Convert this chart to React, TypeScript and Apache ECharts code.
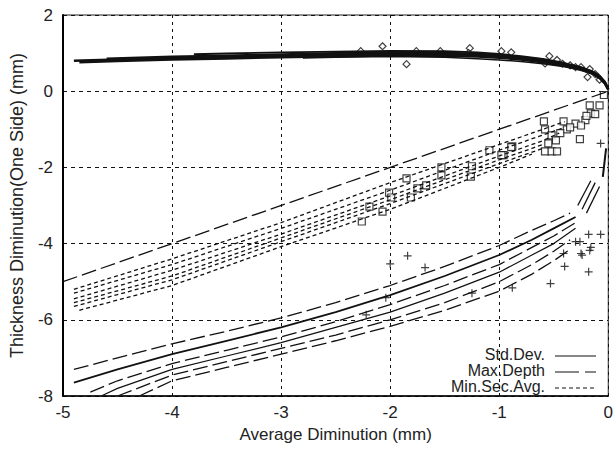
import React, { useEffect, useRef } from "react";
import * as echarts from "echarts";

// ---- tick values ----
const xTicks = [-5, -4, -3, -2, -1, 0];
const yTicks = [2, 0, -2, -4, -6, -8];

// ---- Std.Dev. (solid) curves ----
const stdDev1 = [[-4.9, 0.8], [-4.5, 0.83], [-4, 0.87], [-3.5, 0.9], [-3, 0.93], [-2.5, 0.96], [-2, 0.98], [-1.5, 0.97], [-1.2, 0.95], [-1, 0.92], [-0.8, 0.87], [-0.6, 0.8], [-0.4, 0.7], [-0.25, 0.6], [-0.15, 0.5], [-0.08, 0.38], [-0.03, 0.22], [0, 0.05]];
const stdDev2 = [[-4.85, 0.76], [-4.5, 0.79], [-4, 0.83], [-3.5, 0.86], [-3, 0.89], [-2.5, 0.92], [-2, 0.94], [-1.5, 0.93], [-1.2, 0.91], [-1, 0.88], [-0.8, 0.83], [-0.6, 0.76], [-0.4, 0.67], [-0.25, 0.57], [-0.15, 0.47], [-0.08, 0.35], [-0.03, 0.2], [0, 0.04]];
const stdDev3 = [[-4.6, 0.86], [-4, 0.91], [-3.5, 0.94], [-3, 0.97], [-2.5, 1.0], [-2, 1.02], [-1.5, 1.01], [-1.2, 0.99], [-1, 0.95], [-0.8, 0.9], [-0.6, 0.83], [-0.4, 0.72], [-0.25, 0.62], [-0.15, 0.52], [-0.08, 0.4], [-0.03, 0.24], [0, 0.06]];
const stdDev4 = [[-3.8, 0.97], [-3.5, 0.99], [-3, 1.02], [-2.5, 1.04], [-2, 1.06], [-1.5, 1.05], [-1.2, 1.02], [-1, 0.98], [-0.8, 0.92], [-0.6, 0.85], [-0.4, 0.74], [-0.25, 0.63], [-0.15, 0.53], [-0.08, 0.41], [-0.03, 0.25], [0, 0.07]];
const stdDev5 = [[-2.8, 0.87], [-2.5, 0.89], [-2, 0.91], [-1.5, 0.89], [-1.2, 0.85], [-1, 0.82], [-0.8, 0.78], [-0.6, 0.72], [-0.4, 0.64], [-0.25, 0.55], [-0.15, 0.46], [-0.08, 0.34], [-0.03, 0.19], [0, 0.03]];

// ---- reference line (Max.Depth style) ----
const refLine = [[-5, -5], [0, 0]];

// ---- Min.Sec.Avg. (short dash) curves ----
const minSec1 = [[-4.9, -5.2], [-4, -4.4], [-3, -3.45], [-2, -2.4], [-1, -1.4], [-0.6, -1.0], [-0.4, -0.8]];
const minSec2 = [[-4.9, -5.3], [-4, -4.55], [-3, -3.6], [-2, -2.6], [-1, -1.55], [-0.6, -1.15], [-0.4, -0.95]];
const minSec3 = [[-4.9, -5.45], [-4, -4.7], [-3, -3.75], [-2, -2.75], [-1, -1.7], [-0.6, -1.3], [-0.45, -1.1]];
const minSec4 = [[-4.9, -5.55], [-4, -4.85], [-3, -3.85], [-2, -2.85], [-1, -1.8], [-0.6, -1.4]];
const minSec5 = [[-4.9, -5.65], [-4, -4.95], [-3, -3.95], [-2, -2.95], [-1, -1.9], [-0.6, -1.5]];
const minSec6 = [[-4.85, -5.75], [-4, -5.1], [-3, -4.08], [-2, -3.1], [-1, -2.0], [-0.7, -1.65]];

// ---- Max.Depth (long dash) curves ----
const maxDepth1 = [[-4.9, -7.3], [-4.5, -7.0], [-4, -6.63], [-3.5, -6.3], [-3, -5.95], [-2.5, -5.55], [-2, -5.1], [-1.5, -4.6], [-1, -4.05], [-0.7, -3.65], [-0.5, -3.4], [-0.35, -3.2]];
const maxDepth2 = [[-4.9, -7.65], [-4.5, -7.3], [-4, -6.9], [-3.5, -6.55], [-3, -6.2], [-2.5, -5.8], [-2, -5.35], [-1.5, -4.85], [-1, -4.3], [-0.7, -3.9], [-0.5, -3.6], [-0.3, -3.3]];
const maxDepth3 = [[-4.75, -7.9], [-4.5, -7.6], [-4, -7.15], [-3.5, -6.8], [-3, -6.45], [-2.5, -6.05], [-2, -5.6], [-1.5, -5.1], [-1, -4.55], [-0.7, -4.1], [-0.5, -3.8], [-0.3, -3.45]];
const maxDepth4 = [[-4.65, -8], [-4.5, -7.8], [-4, -7.3], [-3.5, -6.95], [-3, -6.6], [-2.5, -6.2], [-2, -5.8], [-1.5, -5.3], [-1, -4.75], [-0.7, -4.3], [-0.5, -4.0], [-0.3, -3.6]];
const maxDepth5 = [[-4.5, -8], [-4, -7.45], [-3.5, -7.1], [-3, -6.75], [-2.5, -6.4], [-2, -6.0], [-1.5, -5.55], [-1, -5.0], [-0.7, -4.55], [-0.5, -4.2], [-0.35, -3.9]];
const maxDepth6 = [[-4.3, -8], [-4, -7.6], [-3.5, -7.25], [-3, -6.9], [-2.5, -6.55], [-2, -6.17], [-1.5, -5.75], [-1, -5.25], [-0.7, -4.8], [-0.5, -4.45], [-0.35, -4.15]];
const maxDepthTail1 = [[-0.28, -3.0], [-0.16, -2.35]];
const maxDepthTail2 = [[-0.24, -3.1], [-0.12, -2.4]];
const maxDepthTail3 = [[-0.2, -3.2], [-0.08, -2.5]];
const maxDepthTail4 = [[-0.05, -2.25], [-0.02, -1.5]];

// ---- scatter markers ----
const diamondPts = [[-2.07, 1.18], [-1.85, 0.71], [-2.27, 1.05], [-1.76, 1.05], [-1.54, 1.05], [-1.27, 1.13], [-1.28, 1.0], [-0.98, 1.05], [-0.89, 1.02], [-0.54, 0.92], [-0.47, 0.82], [-0.58, 0.73], [-0.3, 0.63], [-0.25, 0.63], [-0.17, 0.58], [-0.19, 0.37], [-0.12, 0.45], [-0.08, 0.3], [-0.35, 0.68], [-0.42, 0.72]];
const squarePts = [[-0.04, -0.1], [-0.17, -0.37], [-0.08, -0.37], [-0.16, -0.58], [-0.21, -0.76], [-0.59, -0.79], [-0.41, -0.79], [-0.3, -0.85], [-0.25, -0.9], [-0.58, -1.0], [-0.38, -1.0], [-0.52, -1.16], [-0.44, -1.1], [-0.48, -1.29], [-0.26, -1.26], [-0.58, -1.58], [-0.52, -1.58], [-0.47, -1.58], [-0.55, -1.37], [-1.09, -1.55], [-0.88, -1.45], [-0.96, -1.68], [-1.25, -1.97], [-1.26, -2.24], [-1.53, -2.0], [-1.85, -2.29], [-2.01, -2.66], [-1.99, -2.79], [-1.75, -2.55], [-1.67, -2.47], [-1.81, -2.79], [-2.19, -3.03], [-2.07, -3.16], [-2.26, -3.42], [-1.53, -2.21], [-0.98, -1.68], [-0.89, -1.47], [-0.12, -0.6], [-0.2, -0.65], [-0.35, -0.95]];
const plusPts = [[-0.07, -3.76], [-0.18, -3.76], [-0.3, -3.95], [-0.26, -3.95], [-0.16, -4.1], [-0.25, -4.26], [-0.41, -4.26], [-0.4, -4.6], [-0.18, -4.74], [-0.53, -5.05], [-0.88, -5.16], [-1.25, -5.3], [-0.07, -1.37], [-2.0, -4.53], [-1.84, -4.32], [-1.68, -4.63], [-2.22, -5.87], [-2.04, -5.42], [-0.17, -4.18], [-0.24, -4.3]];

const BLACK = "#111";
const SHORT_DASH = [4, 3];
const LONG_DASH = [15, 5];

function lineSeries(data: number[][], type: any, width = 1.2) {
  return {
    type: "line",
    data,
    showSymbol: false,
    symbol: "none",
    silent: true,
    lineStyle: { color: BLACK, width, type },
  };
}

export default function App() {
  const ref = useRef<HTMLDivElement>(null);
  useEffect(() => {
    if (!ref.current) return;
    const chart = echarts.init(ref.current, undefined, { renderer: "svg" });
    const font = "Liberation Sans";
    const option: any = {
      animation: false,
      backgroundColor: "#fff",
      grid: { left: 63, right: 6, top: 15, bottom: 54, show: true, borderColor: "#222", borderWidth: 1 },
      xAxis: {
        type: "value",
        min: xTicks[0],
        max: xTicks[xTicks.length - 1],
        interval: 1,
        name: "Average Diminution (mm)",
        nameLocation: "middle",
        nameGap: 29,
        nameTextStyle: { fontFamily: font, fontSize: 17, color: "#222" },
        axisLine: { show: true, onZero: false, lineStyle: { color: "#000", width: 1.5 } },
        axisTick: { show: false },
        axisLabel: { fontFamily: font, fontSize: 17, color: "#222", margin: 8 },
        splitLine: { show: true, lineStyle: { color: "#111", type: [3, 4], width: 1 } },
      },
      yAxis: {
        type: "value",
        min: yTicks[yTicks.length - 1],
        max: yTicks[0],
        interval: 2,
        name: "Thickness Diminution(One Side) (mm)",
        nameLocation: "middle",
        nameGap: 37,
        nameTextStyle: { fontFamily: font, fontSize: 18, color: "#222" },
        axisLine: { show: true, onZero: false, lineStyle: { color: "#000", width: 2 } },
        axisTick: { show: false },
        axisLabel: { fontFamily: font, fontSize: 17, color: "#222", margin: 10 },
        splitLine: { show: true, lineStyle: { color: "#111", type: [4, 4], width: 1 } },
      },
      graphic: [
        { type: "text", right: 71, top: 346, style: { text: "Std.Dev.", fontFamily: font, fontSize: 16, fill: "#222", textAlign: "right" } },
        { type: "text", right: 71, top: 362, style: { text: "Max.Depth", fontFamily: font, fontSize: 16, fill: "#222", textAlign: "right" } },
        { type: "text", right: 71, top: 378, style: { text: "Min.Sec.Avg.", fontFamily: font, fontSize: 16, fill: "#222", textAlign: "right" } },
        { type: "line", shape: { x1: 555, y1: 356, x2: 596, y2: 356 }, style: { stroke: BLACK, lineWidth: 1.2 } },
        { type: "line", shape: { x1: 555, y1: 372, x2: 596, y2: 372 }, style: { stroke: BLACK, lineWidth: 1.2, lineDash: [24, 6] } },
        { type: "line", shape: { x1: 555, y1: 388, x2: 596, y2: 388 }, style: { stroke: BLACK, lineWidth: 1.2, lineDash: SHORT_DASH } },
      ],
      series: [
        lineSeries(stdDev1, "solid", 2.5),
        lineSeries(stdDev2, "solid", 2.5),
        lineSeries(stdDev3, "solid", 2),
        lineSeries(stdDev4, "solid", 1.8),
        lineSeries(stdDev5, "solid", 1.5),
        lineSeries(refLine, LONG_DASH, 1.3),
        lineSeries(minSec1, SHORT_DASH, 1.3),
        lineSeries(minSec2, SHORT_DASH, 1.3),
        lineSeries(minSec3, SHORT_DASH, 1.3),
        lineSeries(minSec4, SHORT_DASH, 1.3),
        lineSeries(minSec5, SHORT_DASH, 1.3),
        lineSeries(minSec6, SHORT_DASH, 1.3),
        lineSeries(maxDepth1, LONG_DASH, 1.3),
        lineSeries(maxDepth2, "solid", 1.8),
        lineSeries(maxDepth3, LONG_DASH, 1.3),
        lineSeries(maxDepth4, "solid", 1.2),
        lineSeries(maxDepth5, LONG_DASH, 1.3),
        lineSeries(maxDepth6, LONG_DASH, 1.3),
        lineSeries(maxDepthTail1, "solid", 1.3),
        lineSeries(maxDepthTail2, "solid", 1.3),
        lineSeries(maxDepthTail3, "solid", 1.3),
        lineSeries(maxDepthTail4, "solid", 2),
        {
          type: "scatter",
          data: diamondPts,
          symbol: "diamond",
          symbolSize: 7,
          silent: true,
          itemStyle: { color: "#fff", borderColor: BLACK, borderWidth: 1.2 },
        },
        {
          type: "scatter",
          data: squarePts,
          symbol: "rect",
          symbolSize: 7,
          silent: true,
          itemStyle: { color: "#fff", borderColor: BLACK, borderWidth: 1.2 },
        },
        {
          type: "scatter",
          data: plusPts,
          symbol: "path://M0,5L10,5M5,0L5,10",
          symbolSize: 8,
          silent: true,
          itemStyle: { color: "none", borderColor: BLACK, borderWidth: 1.2 },
        },
      ],
    };
    chart.setOption(option);
    return () => chart.dispose();
  }, []);
  return <div ref={ref} style={{ width: 616, height: 450, position: "absolute", left: 0, top: 0 }} />;
}
